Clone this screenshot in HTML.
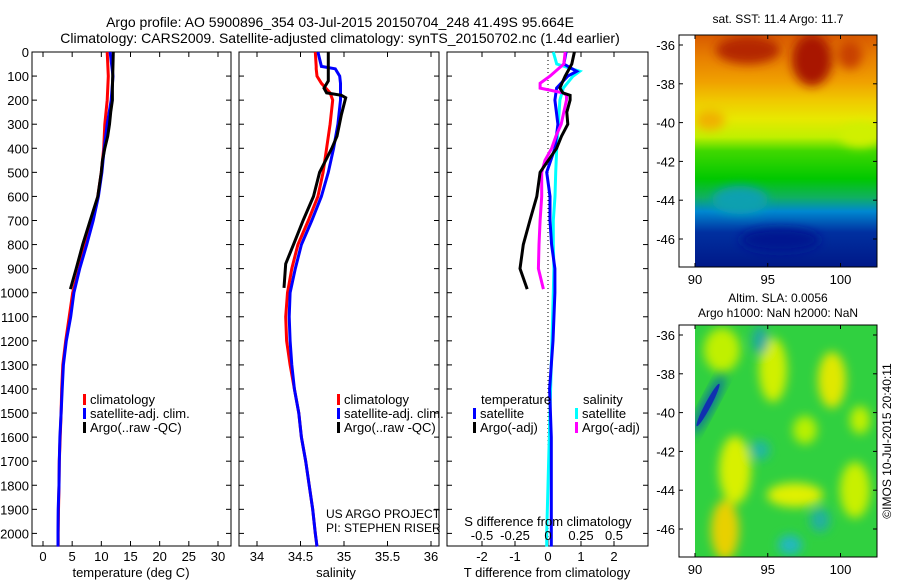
<!DOCTYPE html>
<html><head><meta charset="utf-8">
<style>
html,body{margin:0;padding:0;background:#fff;}
svg{display:block;font-family:"Liberation Sans",sans-serif;}
text{fill:#000;}
</style></head>
<body>
<svg id="fig" width="900" height="580" viewBox="0 0 900 580" xmlns="http://www.w3.org/2000/svg">
<defs>
<linearGradient id="sstg" x1="0" y1="0" x2="0" y2="1">
<stop offset="0" stop-color="#d85a00"/><stop offset="0.10" stop-color="#e88000"/>
<stop offset="0.20" stop-color="#f0a000"/><stop offset="0.28" stop-color="#f0c800"/>
<stop offset="0.36" stop-color="#e8e800"/><stop offset="0.44" stop-color="#c0f000"/>
<stop offset="0.50" stop-color="#40d800"/><stop offset="0.62" stop-color="#00c800"/>
<stop offset="0.70" stop-color="#10b060"/><stop offset="0.76" stop-color="#0088d0"/>
<stop offset="0.85" stop-color="#0030a0"/><stop offset="1" stop-color="#001888"/></linearGradient>
<filter id="blur" x="-50%" y="-50%" width="200%" height="200%"><feGaussianBlur stdDeviation="5"/></filter>
<clipPath id="clipTop"><rect x="695" y="35" width="182" height="232"/></clipPath>
<clipPath id="clipBot"><rect x="695" y="325" width="182" height="232"/></clipPath>
</defs>
<g font-size="14" text-anchor="middle">
<text x="340" y="27">Argo profile: AO 5900896_354 03-Jul-2015 20150704_248 41.49S 95.664E</text>
<text x="340" y="43">Climatology: CARS2009. Satellite-adjusted climatology: synTS_20150702.nc (1.4d earlier)</text>
</g>
<g id="panels"></g>
<g>
<g clip-path="url(#clipTop)">
<rect x="695" y="35" width="182" height="232" fill="url(#sstg)"/>
<g filter="url(#blur)">
<ellipse cx="748" cy="50" rx="32" ry="14" fill="#b42800"/>
<ellipse cx="812" cy="60" rx="20" ry="26" fill="#a81400"/>
<ellipse cx="850" cy="55" rx="12" ry="14" fill="#c84000"/>
<ellipse cx="740" cy="200" rx="28" ry="14" fill="#10a0b0"/>
<ellipse cx="710" cy="120" rx="15" ry="10" fill="#f0b000"/>
<ellipse cx="860" cy="135" rx="20" ry="12" fill="#d0f000"/>
<ellipse cx="780" cy="240" rx="40" ry="12" fill="#001890"/>
</g></g>
<rect x="679" y="35" width="198" height="232" fill="none" stroke="#000" stroke-width="1"/>
<text x="778" y="23" font-size="12" text-anchor="middle">sat. SST: 11.4 Argo: 11.7</text>
</g>
<g>
<g clip-path="url(#clipBot)">
<rect x="695" y="325" width="182" height="232" fill="#30d040"/>
<g filter="url(#blur)">
<ellipse cx="773" cy="370" rx="14" ry="32" fill="#d0f000"/>
<ellipse cx="832" cy="380" rx="14" ry="28" fill="#e0e800"/>
<ellipse cx="735" cy="470" rx="16" ry="34" fill="#d8f000"/>
<ellipse cx="725" cy="530" rx="14" ry="30" fill="#e8d000"/>
<ellipse cx="795" cy="495" rx="28" ry="12" fill="#e0f000"/>
<ellipse cx="722" cy="350" rx="18" ry="22" fill="#c0f000"/>
<ellipse cx="855" cy="490" rx="15" ry="28" fill="#c8f000"/>
<ellipse cx="805" cy="430" rx="12" ry="14" fill="#b8f000"/>
<ellipse cx="860" cy="420" rx="10" ry="14" fill="#c0f000"/>
<ellipse cx="760" cy="450" rx="10" ry="10" fill="#20b8a0"/>
<ellipse cx="790" cy="545" rx="12" ry="10" fill="#20b8c0"/>
<ellipse cx="820" cy="520" rx="10" ry="12" fill="#20b0a0"/>
<ellipse cx="760" cy="340" rx="8" ry="14" fill="#20a8a0"/>
</g>
<ellipse cx="708" cy="405" rx="5" ry="34" fill="#0050c0" transform="rotate(28 708 405)" filter="url(#blur)" opacity="0.9"/>
<ellipse cx="708" cy="405" rx="3" ry="24" fill="#1030b0" transform="rotate(28 708 405)"/>
</g>
<rect x="679" y="325" width="198" height="232" fill="none" stroke="#000" stroke-width="1"/>
<text x="778" y="302" font-size="12" text-anchor="middle">Altim. SLA: 0.0056</text>
<text x="778" y="317" font-size="12" text-anchor="middle">Argo h1000: NaN h2000: NaN</text>
<text x="0" y="0" font-size="12" text-anchor="middle" transform="translate(891 441) rotate(-90)">©IMOS 10-Jul-2015 20:40:11</text>
</g>
<g id="mapaxes"></g>
</svg>
<script>
const NS="http://www.w3.org/2000/svg";
const depthsA=[0,100,200,300,400,500,600,700,800,900,1000,1100,1200,1300,1400,1500,1600,1700,1800,1900,2000,2055];
const tempClim=[11.0,11.2,11.0,10.6,10.4,10.0,9.4,8.5,7.2,6.2,5.1,4.5,3.9,3.4,3.2,3.1,2.95,2.8,2.75,2.65,2.6,2.6];
const tempSat=[11.5,12.0,11.7,11.0,10.5,10.1,9.5,8.6,7.5,6.3,5.3,4.75,4.0,3.5,3.3,3.1,2.9,2.8,2.75,2.6,2.57,2.57];
const depthsArgo=[0,50,100,150,180,200,250,300,350,400,450,500,600,700,800,900,985];
const tempArgo=[12.05,12.0,11.95,11.9,11.9,11.9,11.6,11.4,11.1,10.6,10.2,10.0,9.4,8.1,6.8,5.7,4.7];
const salDepths=[0,60,70,100,130,170,200,300,400,500,600,700,800,900,1000,1100,1200,1300,1400,1500,1600,1700,1800,1900,2000,2055];
const salClim=[34.67,34.68,34.68,34.69,34.74,34.84,34.87,34.84,34.80,34.76,34.70,34.59,34.47,34.40,34.35,34.33,34.34,34.38,34.43,34.48,34.51,34.56,34.60,34.64,34.67,34.69];
const salSat=[34.70,34.74,34.90,34.95,34.96,34.96,34.96,34.93,34.88,34.82,34.74,34.63,34.51,34.44,34.38,34.37,34.38,34.40,34.43,34.48,34.51,34.56,34.60,34.64,34.67,34.69];
const salArgoDepths=[0,120,150,170,180,190,260,350,400,500,600,700,800,880,980];
const salArgo=[34.82,34.82,34.77,34.80,34.97,35.02,34.97,34.92,34.86,34.72,34.65,34.53,34.42,34.33,34.31];
const dDepths=[0,50,80,100,150,200,300,400,500,600,700,800,900,1000,1200,1400,1600,1800,2000,2055];
const dTSat=[0.55,0.48,0.87,0.6,0.26,0.21,0.3,0.21,-0.04,0.06,0.06,0.11,0.21,0.21,0.15,0.05,0.1,0.1,0.1,0.1];
const dSSat=[0.04,0.066,0.24,0.19,0.116,0.09,0.078,0.066,0.058,0.053,0.04,0.04,0.045,0.04,0.03,0.02,0.01,0.0,-0.01,-0.01];
const dArgoDepths=[0,50,100,130,150,170,180,200,250,300,350,400,450,500,600,700,800,900,985];
const dTArgo=[0.8,0.72,0.52,0.42,0.36,0.45,0.67,0.67,0.57,0.6,0.41,0.26,0.01,-0.24,-0.34,-0.55,-0.75,-0.85,-0.63];
const dSArgo=[0.13,0.12,0.015,-0.06,-0.06,0.116,0.14,0.14,0.12,0.10,0.06,0.028,-0.023,-0.048,-0.048,-0.06,-0.068,-0.073,-0.035];
const depthTicks=[0,100,200,300,400,500,600,700,800,900,1000,1100,1200,1300,1400,1500,1600,1700,1800,1900,2000];
const tTicks=[0,5,10,15,20,25,30];
const sTicks=[34,34.5,35,35.5,36];
const dTTicks=[-2,-1,0,1,2];
const dSTicks=[-0.5,-0.25,0,0.25,0.5];
const lonTicks=[90,95,100];
const latTicks=[-36,-38,-40,-42,-44,-46];
const TOP=52,BOT=546;
const yD=d=>TOP+d*0.2407;
const xT=t=>43+t*5.833;
const xS=s=>257+(s-34)*87;
const xDT=t=>548+t*33;
const xDS=s=>548+s*132;
const xLon=l=>695+(l-90)*14.55;
const yLatTop=l=>45+(-36-l)*19.4;
const yLatBot=l=>335+(-36-l)*19.4;
const root=document.getElementById('panels');
function el(tag,attrs,parent,txt){const e=document.createElementNS(NS,tag);for(const k in attrs)e.setAttribute(k,attrs[k]);if(txt!==undefined)e.textContent=txt;(parent||root).appendChild(e);return e;}
function line(xs,ds,xf,col,name,g){
  const pts=xs.map((v,i)=>xf(v).toFixed(1)+','+yD(ds[i]).toFixed(1)).join(' ');
  const p=el('polyline',{points:pts,fill:'none',stroke:col,'stroke-width':3,'stroke-linejoin':'miter'},g);
  
  
}
function frame(x0,x1,name,ticks,xf,labelY,leftLabels){
  const g=el('g',{});
  
  
  el('rect',{x:x0,y:TOP,width:x1-x0,height:BOT-TOP,fill:'none',stroke:'#000','stroke-width':1},g);
  depthTicks.forEach(d=>{const y=yD(d);
    el('line',{x1:x0,y1:y,x2:x0+5,y2:y,stroke:'#000'},g);
    el('line',{x1:x1,y1:y,x2:x1-5,y2:y,stroke:'#000'},g);
    if(leftLabels){const t=el('text',{x:x0-3,y:y+5,'font-size':13,'text-anchor':'end'},g,String(d));
      
      }
  });
  ticks.forEach(v=>{const x=xf(v);
    el('line',{x1:x,y1:TOP,x2:x,y2:TOP+5,stroke:'#000'},g);
    el('line',{x1:x,y1:BOT,x2:x,y2:BOT-5,stroke:'#000'},g);
    if(labelY){const t=el('text',{x:x,y:labelY,'font-size':13,'text-anchor':'middle'},g,String(v));
      
      }
  });
  return g;
}
const g1=frame(32,231,'temperature-panel',tTicks,xT,561,true);
line(tempClim,depthsA,xT,'#ff0000','temp-climatology-line',g1);
line(tempSat,depthsA,xT,'#0000ff','temp-satellite-line',g1);
line(tempArgo,depthsArgo,xT,'#000000','temp-argo-line',g1);
el('text',{x:131,y:577,'font-size':13,'text-anchor':'middle'},g1,'temperature (deg C)');
const g2=frame(239,439,'salinity-panel',sTicks,xS,561,false);
line(salClim,salDepths,xS,'#ff0000','sal-climatology-line',g2);
line(salSat,salDepths,xS,'#0000ff','sal-satellite-line',g2);
line(salArgo,salArgoDepths,xS,'#000000','sal-argo-line',g2);
el('text',{x:336,y:577,'font-size':13,'text-anchor':'middle'},g2,'salinity');
el('text',{x:326,y:518,'font-size':12},g2,'US ARGO PROJECT');
el('text',{x:326,y:532,'font-size':12},g2,'PI: STEPHEN RISER');
const g3=frame(447,648,'difference-panel',dTTicks,xDT,561,false);
el('line',{x1:548,y1:TOP,x2:548,y2:BOT,stroke:'#000','stroke-dasharray':'1,3'},g3);
line(dSSat,dDepths,xDS,'#00ffff','sal-diff-satellite-line',g3);
line(dTSat,dDepths,xDT,'#0000ff','temp-diff-satellite-line',g3);
line(dSArgo,dArgoDepths,xDS,'#ff00ff','sal-diff-argo-line',g3);
line(dTArgo,dArgoDepths,xDT,'#000000','temp-diff-argo-line',g3);
dSTicks.forEach(v=>{const t=el('text',{x:xDS(v),y:540,'font-size':13,'text-anchor':'middle'},g3,String(v));
  
  });
el('text',{x:548,y:526,'font-size':13,'text-anchor':'middle'},g3,'S difference from climatology');
el('text',{x:547,y:577,'font-size':13,'text-anchor':'middle'},g3,'T difference from climatology');
function legend(x,y,items,name){
  const g=el('g',{});
  
  
  items.forEach((it,i)=>{
    if(it[1])el('rect',{x:x,y:y+i*14-10,width:3,height:11,fill:it[1]},g);
    el('text',{x:x+7,y:y+i*14,'font-size':13},g,it[0]);
  });
}
legend(83,404,[['climatology','#ff0000'],['satellite-adj. clim.','#0000ff'],['Argo(..raw -QC)','#000000']],'temp-legend');
legend(337,404,[['climatology','#ff0000'],['satellite-adj. clim.','#0000ff'],['Argo(..raw -QC)','#000000']],'sal-legend');
el('text',{x:481,y:404,'font-size':13},root,'temperature');
legend(473,418,[['satellite','#0000ff'],['Argo(-adj)','#000000']],'temp-diff-legend');
el('text',{x:583,y:404,'font-size':13},root,'salinity');
legend(575,418,[['satellite','#00ffff'],['Argo(-adj)','#ff00ff']],'sal-diff-legend');
const ma=document.getElementById('mapaxes');
[[35,267,yLatTop],[325,557,yLatBot]].forEach(([t,b,yf])=>{
  lonTicks.forEach(l=>{const x=xLon(l);
    el('line',{x1:x,y1:t,x2:x,y2:t+4,stroke:'#000'},ma);
    el('line',{x1:x,y1:b,x2:x,y2:b-4,stroke:'#000'},ma);
    const tx=el('text',{x:x,y:b+17,'font-size':13,'text-anchor':'middle'},ma,String(l));
    
    });
  latTicks.forEach(l=>{const y=yf(l);
    el('line',{x1:679,y1:y,x2:683,y2:y,stroke:'#000'},ma);
    el('line',{x1:877,y1:y,x2:873,y2:y,stroke:'#000'},ma);
    const tx=el('text',{x:675,y:y+5,'font-size':13,'text-anchor':'end'},ma,String(l));
    
    });
});
</script>
</body></html>
